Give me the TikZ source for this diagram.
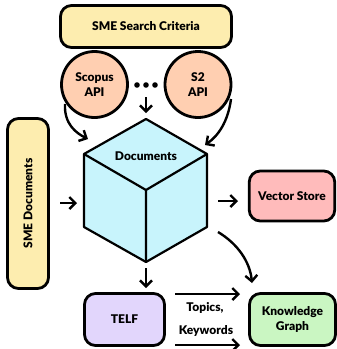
\documentclass[tikz,border=0pt]{standalone}
\usepackage{fontspec}
\setmainfont{Lato}[BoldFont=Lato Black]
\usetikzlibrary{arrows.meta,positioning}
\definecolor{critfill}{HTML}{FDEDAF}
\definecolor{apifill}{HTML}{FFCFB1}
\definecolor{cubefill}{HTML}{C8F4FC}
\definecolor{vecfill}{HTML}{FFBBBB}
\definecolor{telffill}{HTML}{E2D6FC}
\definecolor{kgfill}{HTML}{CAF6C2}
\begin{document}
\begin{tikzpicture}[x=1pt,y=-1pt,
  font=\bfseries\fontsize{12}{15}\selectfont,
  box/.style={draw,line width=2.8pt,rounded corners=11pt,align=center,inner sep=2pt},
  api/.style={draw,circle,line width=2.8pt,fill=apifill,minimum size=66pt,align=center,inner sep=0pt},
  arr/.style={-{Straight Barb[length=6pt,width=12pt]},line width=2.4pt}]
  \useasboundingbox (0,0) rectangle (337,349);
  \node[box,fill=critfill,minimum width=171pt,minimum height=42pt] (criteria) at (146,26.5) {SME Search Criteria};
  \node[api] (scopus) at (94.5,84.5) {Scopus\\API};
  \node[api] (s2) at (198,84.5) {S2\\API};
  \foreach \x in {137,146,155}
    \fill (\x,85) circle (2.8pt);
  \coordinate (dots) at (146,97);
  % cube
  \coordinate (ctop) at (146,119);
  \coordinate (ctl) at (84,154);
  \coordinate (ctr) at (207,154);
  \coordinate (cmid) at (146,190);
  \coordinate (cbl) at (84,227);
  \coordinate (cbr) at (207,227);
  \coordinate (cbot) at (146,262);
  \draw[line width=2.2pt,fill=cubefill,line join=round] (ctop) -- (ctr) -- (cbr) -- (cbot) -- (cbl) -- (ctl) -- cycle;
  \draw[line width=2.2pt,line join=round] (ctl) -- (cmid) -- (ctr) (cmid) -- (cbot);
  \node (docs) at (146,156) {Documents};
  \node[box,fill=critfill,rotate=90,minimum width=170pt,minimum height=41pt] (sme) at (28,203.5) {SME Documents};
  \node[box,fill=vecfill,minimum width=85.5pt,minimum height=50pt] (vector) at (292,196) {Vector Store};
  \node[box,fill=telffill,minimum width=80pt,minimum height=52pt] (telf) at (124.5,319.5) {TELF};
  \node[box,fill=kgfill,minimum width=86pt,minimum height=52pt] (kg) at (292.5,319.5) {Knowledge\\Graph};
  \coordinate (t1) at (88,139);
  \coordinate (t2) at (205,145);
  \coordinate (t3) at (252,283);
  \draw[arr] (dots) -- (146,113);
  \draw[arr] (65,104) .. controls (64,124) and (76,133) .. (t1);
  \draw[arr] (231,99) .. controls (228,122) and (218,136) .. (t2);
  \draw[arr] (60,203) -- (77,203);
  \draw[arr] (218,201) -- (238,201);
  \draw[arr] (218,232) .. controls (238,244) and (250,262) .. (t3);
  \draw[arr] (cbot |- 0,268) -- (146,288);
  \draw[arr] (175,294) -- (240,294);
  \draw[arr] (175,345) -- (240,345);
  \node (topics) at (205,308) {Topics,};
  \node (keywords) at (206,331) {Keywords};
\end{tikzpicture}
\end{document}
